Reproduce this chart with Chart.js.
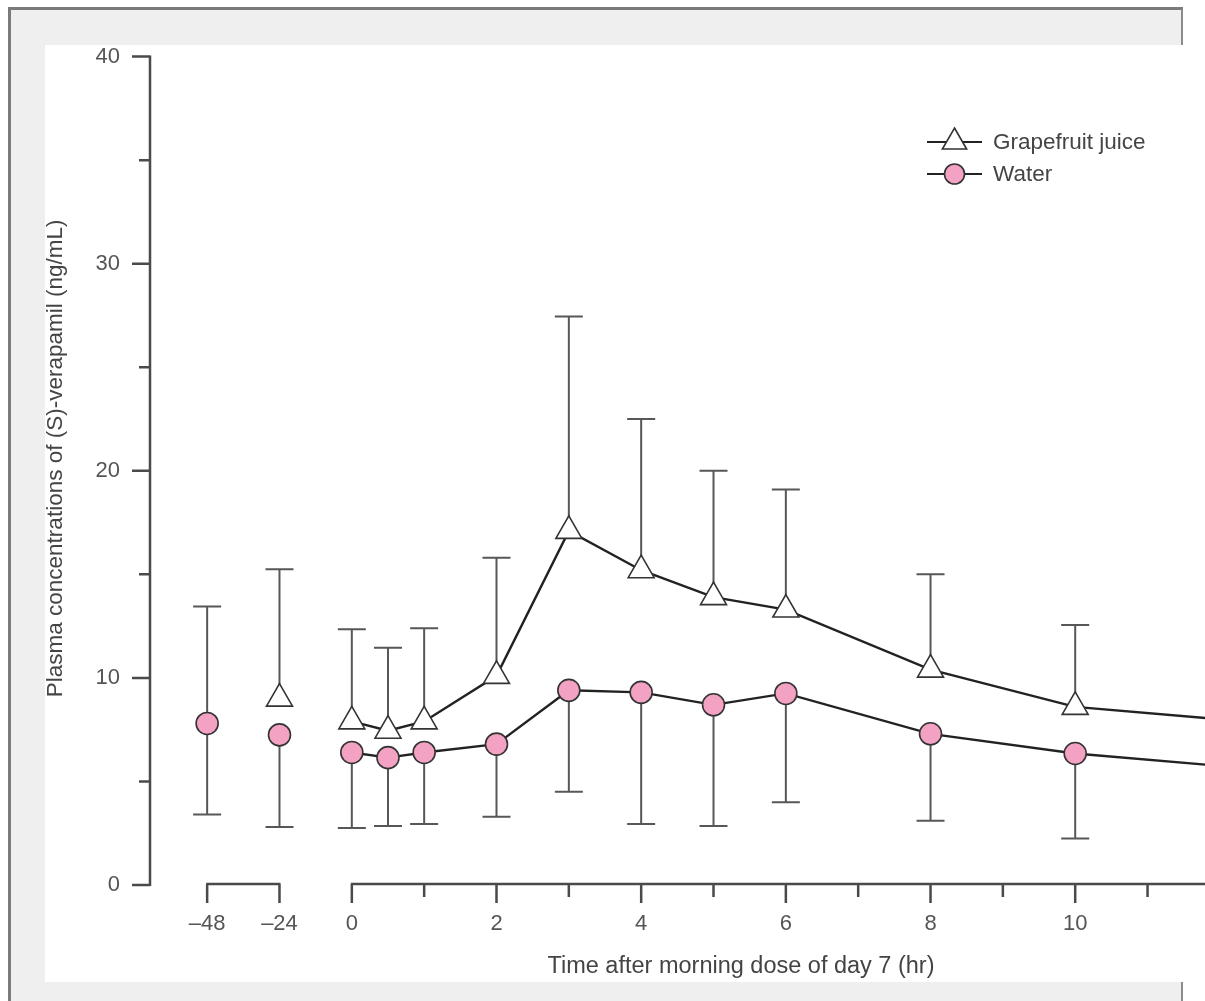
<!DOCTYPE html>
<html>
<head>
<meta charset="utf-8">
<title>(S)-verapamil plasma concentrations</title>
<script src="https://cdn.jsdelivr.net/npm/chart.js@4.4.0/dist/chart.umd.min.js"></script>
<style>
  html, body { margin: 0; padding: 0; background: #fff; overflow: hidden; }
  #frame {
    position: absolute; left: 8px; top: 7px; width: 1170px; height: 1100px;
    border-left: 3px solid #7b7b7b; border-top: 3px solid #7b7b7b; border-right: 2px solid #8c8c8c;
    background: #efefef;
  }
  #plot { position: absolute; left: 45px; top: 45px; width: 1160px; height: 937px; overflow: hidden; background: #fff; }
  #myChart { display: block; margin-top: -5px; }
</style>
</head>
<body>
<div id="frame"></div>
<div id="plot"><canvas id="myChart" width="1308" height="942"></canvas></div>
<script>
// sampling times (hr); negative times are the pre-dose days
var hours = [-48, -24, 0, 0.5, 1, 2, 3, 4, 5, 6, 8, 10, 12];

var juiceMean  = [null, 9.0, 7.9, 7.45, 7.9, 10.1, 17.1, 15.2, 13.9, 13.3, 10.4, 8.6, 8.0];
var juiceHigh  = [null, 15.25, 12.35, 11.45, 12.4, 15.8, 27.45, 22.5, 20.0, 19.1, 15.0, 12.55, 12.2];

var waterMean  = [7.8, 7.25, 6.4, 6.15, 6.4, 6.8, 9.4, 9.3, 8.7, 9.25, 7.3, 6.35, 5.75];
var waterHigh  = [13.45, null, null, null, null, null, null, null, null, null, null, null, null];
var waterLow   = [3.4, 2.8, 2.75, 2.85, 2.95, 3.3, 4.5, 2.95, 2.85, 4.0, 3.1, 2.25, 2.3];

var xTickHours = [-48, -24, 0, 1, 2, 3, 4, 5, 6, 7, 8, 9, 10, 11, 12, 13];
var yTickValues = [0, 5, 10, 15, 20, 25, 30, 35, 40];

var yTitle = 'Plasma concentrations of (S)-verapamil (ng/mL)';

// pre-dose days are squeezed onto the axis at one unit per day
function axisPos(h) { return h < 0 ? h / 24 : h; }

function points(values) {
  return hours.map(function (h, i) { return { x: axisPos(h), y: values[i] }; });
}

var ink = '#222';
var barColor = '#575757';
var textColor = '#555';
var pink = '#f3a2c3';
var fontFamily = "'Liberation Sans', Arial, sans-serif";

Chart.defaults.font.family = fontFamily;
Chart.defaults.color = textColor;

var errorBars = {
  id: 'errorBars',
  beforeDatasetsDraw: function (chart) {
    var c = chart.ctx, xs = chart.scales.x, ys = chart.scales.y;
    c.save();
    c.strokeStyle = barColor;
    c.lineWidth = 2;
    chart.data.datasets.forEach(function (ds) {
      ds.data.forEach(function (p, i) {
        if (p.y == null) return;
        var px = xs.getPixelForValue(p.x), py = ys.getPixelForValue(p.y);
        [ds.errHigh, ds.errLow].forEach(function (arr) {
          if (!arr || arr[i] == null) return;
          var ey = ys.getPixelForValue(arr[i]);
          c.beginPath();
          c.moveTo(px, py); c.lineTo(px, ey);
          c.moveTo(px - 14, ey); c.lineTo(px + 14, ey);
          c.stroke();
        });
      });
    });
    c.restore();
  }
};

// broken x axis and y axis with major/minor tick marks, plus the y title
var axisLines = {
  id: 'axisLines',
  beforeDatasetsDraw: function (chart) {
    var c = chart.ctx, xs = chart.scales.x, ys = chart.scales.y, area = chart.chartArea;
    c.save();
    c.strokeStyle = '#4a4a4a';
    c.lineWidth = 2.5;
    c.lineCap = 'butt';

    var ax = area.left;
    c.beginPath();
    c.moveTo(ax, ys.getPixelForValue(40) - 1);
    c.lineTo(ax, ys.getPixelForValue(0) + 1);
    yTickValues.forEach(function (v) {
      var y = ys.getPixelForValue(v);
      c.moveTo(ax, y);
      c.lineTo(ax - (v % 10 === 0 ? 18 : 11), y);
    });
    c.stroke();

    var ay = ys.getPixelForValue(0) - 1;
    c.beginPath();
    c.moveTo(xs.getPixelForValue(axisPos(-48)) - 1, ay);
    c.lineTo(xs.getPixelForValue(axisPos(-24)) + 1, ay);
    c.moveTo(xs.getPixelForValue(0) - 1, ay);
    c.lineTo(area.right, ay);
    xTickHours.forEach(function (h) {
      var x = xs.getPixelForValue(axisPos(h));
      var major = h < 0 || h % 2 === 0;
      c.moveTo(x, ay);
      c.lineTo(x, ay + (major ? 19 : 13));
    });
    c.stroke();

    // y title sits a little above the axis middle
    c.translate(ys.left + 11, ys.getPixelForValue(20.6));
    c.rotate(-Math.PI / 2);
    c.fillStyle = '#444';
    c.font = '22.5px ' + fontFamily;
    c.textAlign = 'center';
    c.textBaseline = 'middle';
    c.fillText(yTitle, 0, 0);
    c.restore();
  }
};

var keyBox = {
  id: 'keyBox',
  afterDraw: function (chart) {
    var c = chart.ctx;
    var x0 = 882, x1 = 937, tx = 948, rows = [102, 134];
    c.save();
    chart.data.datasets.forEach(function (ds, i) {
      if (!ds.label) return;
      var y = rows[i];
      c.strokeStyle = ink;
      c.lineWidth = 2;
      c.beginPath(); c.moveTo(x0, y); c.lineTo(x1, y); c.stroke();
      c.fillStyle = ds.pointBackgroundColor;
      c.strokeStyle = ds.pointBorderColor;
      c.lineWidth = ds.pointBorderWidth;
      Chart.helpers.drawPoint(c, {
        pointStyle: ds.pointStyle,
        radius: ds.pointStyle === 'circle' ? 10 : 14,
        rotation: 0,
        borderWidth: ds.pointBorderWidth
      }, (x0 + x1) / 2, y);
      c.fillStyle = '#444';
      c.font = '22.5px ' + fontFamily;
      c.textBaseline = 'middle';
      c.textAlign = 'left';
      c.fillText(ds.label, tx, y + 1);
    });
    c.restore();
  }
};

function lineSegment(ctx) {
  return ctx.p0.parsed.x < 0 ? 'rgba(0,0,0,0)' : ink;
}

var ctx = document.getElementById('myChart').getContext('2d');
var myChart = new Chart(ctx, {
  type: 'line',
  data: {
    datasets: [{
      label: 'Grapefruit juice',
      data: points(juiceMean),
      errHigh: juiceHigh,
      borderColor: ink,
      borderWidth: 2.4,
      segment: { borderColor: lineSegment },
      pointStyle: 'triangle',
      pointRadius: 15,
      pointBackgroundColor: '#fff',
      pointBorderColor: '#333',
      pointBorderWidth: 1.6,
      tension: 0,
      clip: false
    }, {
      label: 'Water',
      data: points(waterMean),
      errHigh: waterHigh,
      errLow: waterLow,
      borderColor: ink,
      borderWidth: 2.4,
      segment: { borderColor: lineSegment },
      pointStyle: 'circle',
      pointRadius: 11,
      pointBackgroundColor: pink,
      pointBorderColor: '#333',
      pointBorderWidth: 1.6,
      tension: 0,
      clip: false
    }]
  },
  options: {
    responsive: false,
    animation: false,
    events: [],
    layout: { padding: { top: 6, right: 21, left: 0, bottom: 0 } },
    plugins: {
      legend: { display: false },
      tooltip: { enabled: false }
    },
    scales: {
      x: {
        type: 'linear',
        min: -2.79,
        max: 13.55,
        grid: { display: false, drawTicks: false },
        border: { display: false },
        afterBuildTicks: function (scale) {
          scale.ticks = xTickHours.map(function (h) { return { value: axisPos(h) }; });
        },
        afterFit: function (scale) {
          scale.height = 97;
          scale.paddingLeft = 0;
          scale.paddingRight = 0;
        },
        ticks: {
          autoSkip: false,
          maxRotation: 0,
          padding: 26,
          font: { size: 22 },
          color: textColor,
          callback: function (value, index) {
            var h = xTickHours[index];
            if (h < 0) return '\u2013' + Math.abs(h);
            return h % 2 === 0 ? String(h) : '';
          }
        },
        title: {
          display: true,
          text: 'Time after morning dose of day 7 (hr)',
          font: { size: 23.5, lineHeight: 1 },
          color: '#444',
          padding: { top: 0, bottom: 4 }
        }
      },
      y: {
        min: 0,
        max: 40,
        grid: { display: false, drawTicks: false },
        border: { display: false },
        afterBuildTicks: function (scale) {
          scale.ticks = yTickValues.map(function (v) { return { value: v }; });
        },
        afterFit: function (scale) {
          scale.width = 105;
          scale.paddingTop = 0;
          scale.paddingBottom = 0;
        },
        ticks: {
          autoSkip: false,
          padding: 30,
          font: { size: 22 },
          color: textColor,
          callback: function (value) { return value % 10 === 0 ? String(value) : ''; }
        }
      }
    }
  },
  plugins: [errorBars, axisLines, keyBox]
});
</script>
</body>
</html>
